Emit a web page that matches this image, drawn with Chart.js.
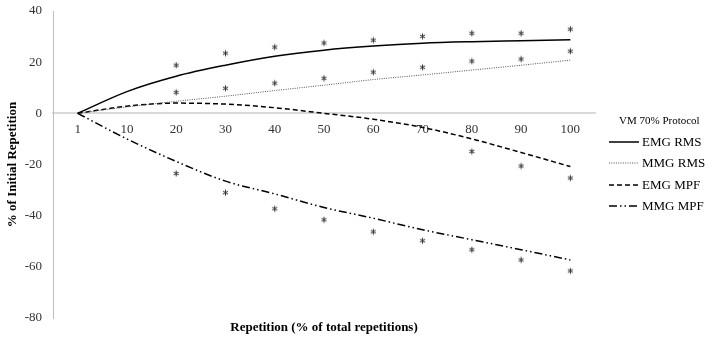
<!DOCTYPE html>
<html><head><meta charset="utf-8">
<script src="https://cdn.jsdelivr.net/npm/chart.js@4.4.1/dist/chart.umd.min.js"></script>
<style>html,body{margin:0;padding:0;background:#fff}#wrap{width:713px;height:342px;position:relative}</style>
</head><body><div id="wrap"><canvas id="c"></canvas></div>
<script>
const categories = ['1','10','20','30','40','50','60','70','80','90','100'];
const emgRmsTrend = [0, 8.5, 14.5, 18.8, 22.3, 24.7, 26.3, 27.4, 28, 28.4, 28.8];
const mmgRmsTrend = [0, 2.5, 4.7, 6.7, 8.9, 11, 13.2, 15, 16.9, 18.8, 20.8];
const emgMpfTrend = [0, 2.8, 4.0, 3.6, 2.2, 0, -2.3, -5.5, -10, -15.3, -20.8];
const mmgMpfTrend = [0, -10, -18.8, -26.5, -31.5, -36.8, -41, -45.5, -49.4, -53.3, -57.3];
const emgRmsSig = [null, null, 18.8, 23.5, 25.9, 27.5, 28.6, 30.1, 31.3, 31.3, 32.9];
const mmgRmsSig = [null, null, 8.2, 9.8, 11.8, 13.7, 16.1, 18, 20.4, 21.2, 24.3];
const emgMpfSig = [null, null, null, null, null, null, null, null, -14.9, -20.6, -25.3];
const mmgMpfSig = [null, null, -23.5, -31, -37.3, -41.6, -46.3, -49.8, -53.3, -57.3, -61.6];
const yTicks = [40, 20, 0, -20, -40, -60, -80];
const seriesNames = ['EMG RMS', 'MMG RMS', 'EMG MPF', 'MMG MPF'];
const legendTitle = 'VM 70% Protocol';
const xTitle = 'Repetition (% of total repetitions)';
const yTitle = '% of Initial Repetition';

const SERIF = '"Liberation Serif", "Times New Roman", serif';

// asterisk marker
const star = document.createElement('canvas');
star.width = 9; star.height = 9;
(function(){
  const g = star.getContext('2d');
  g.strokeStyle = '#333'; g.lineWidth = 1;
  const r = 3, cx = 4.5, cy = 4.5;
  for (let k = 0; k < 3; k++) {
    const a = Math.PI/2 + k*Math.PI/3;
    g.beginPath();
    g.moveTo(cx + r*Math.cos(a), cy + r*Math.sin(a));
    g.lineTo(cx - r*Math.cos(a), cy - r*Math.sin(a));
    g.stroke();
  }
})();

const styles = [
  {color:'#000', width:1.5, dash:[]},
  {color:'#555', width:1, dash:[1,1.3]},
  {color:'#000', width:1.5, dash:[5,3]},
  {color:'#000', width:1.5, dash:[8,3,1.5,3,1.5,3]}
];
const trends = [emgRmsTrend, mmgRmsTrend, emgMpfTrend, mmgMpfTrend];
const sigs = [emgRmsSig, mmgRmsSig, emgMpfSig, mmgMpfSig];

const datasets = [];
trends.forEach((d, i) => {
  datasets.push({
    label: seriesNames[i], data: d,
    borderColor: styles[i].color, borderWidth: styles[i].width, borderDash: styles[i].dash,
    pointRadius: 0, fill: false, cubicInterpolationMode: 'monotone'
  });
});
sigs.forEach((d, i) => {
  datasets.push({
    label: seriesNames[i] + ' *', data: d, showLine: false,
    pointStyle: star, pointRadius: 4, borderWidth: 0, backgroundColor: '#333'
  });
});

const extras = {
  id: 'extras',
  afterDraw(chart) {
    const ctx = chart.ctx;
    const ca = chart.chartArea;
    ctx.save();
    ctx.fillStyle = '#000';
    ctx.font = 'bold 13px ' + SERIF;
    ctx.textAlign = 'center';
    ctx.textBaseline = 'middle';
    ctx.fillText(xTitle, (ca.left + ca.right) / 2, 328);
    ctx.font = '11px ' + SERIF;
    ctx.textAlign = 'left';
    ctx.fillStyle = '#000';
    ctx.fillText(legendTitle, 619, 121);
    const ys = [142, 163, 185, 206];
    ctx.font = '13px ' + SERIF;
    seriesNames.forEach((n, i) => {
      ctx.beginPath();
      ctx.strokeStyle = styles[i].color;
      ctx.lineWidth = styles[i].width;
      ctx.setLineDash(styles[i].dash);
      ctx.moveTo(609, ys[i]);
      ctx.lineTo(639, ys[i]);
      ctx.stroke();
      ctx.setLineDash([]);
      ctx.fillStyle = '#000';
      ctx.fillText(n, 642, ys[i] + 1);
    });
    ctx.restore();
  }
};

new Chart(document.getElementById('c'), {
  type: 'line',
  data: { labels: categories, datasets },
  options: {
    responsive: true, maintainAspectRatio: false, animation: false,
    layout: { padding: { top: 11, right: 118, bottom: 24, left: 0 } },
    plugins: { legend: { display: false }, tooltip: { enabled: false } },
    scales: {
      x: {
        type: 'category', offset: true,
        position: { y: 0 },
        grid: { display: false, drawTicks: false },
        border: { color: '#d9d9d9', width: 2 },
        ticks: { color: '#333', font: { family: SERIF, size: 13 }, padding: 8, maxRotation: 0, autoSkip: false }
      },
      y: {
        min: -80, max: 40,
        afterBuildTicks: (s) => { s.ticks = yTicks.map(v => ({ value: v })); },
        afterFit: (s) => { s.width = 53; s.paddingTop = 0; s.paddingBottom = 0; },
        grid: { display: false, drawTicks: false },
        border: { color: '#bfbfbf', width: 1 },
        ticks: { color: '#333', font: { family: SERIF, size: 13 }, padding: 11 },
        title: { display: true, text: yTitle, color: '#000', font: { family: SERIF, size: 13, weight: 'bold' }, padding: { top: 5, bottom: 0 } }
      }
    }
  },
  plugins: [extras]
});
</script>
</body></html>
